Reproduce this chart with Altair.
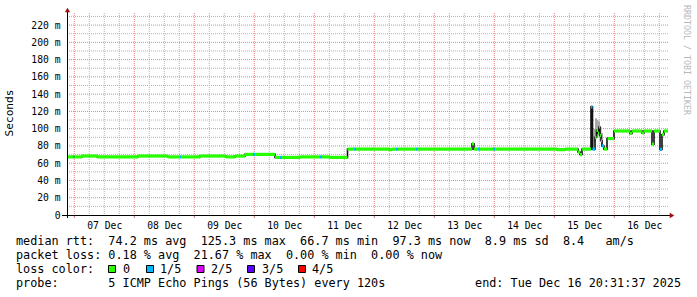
import altair as alt
import pandas as pd

FONT = "DejaVu Sans Mono"

# ---------------- data ----------------
# median RTT steps (ms) and number of lost pings (out of 5)
seg_time = [
    "2025-12-06T21:05", "2025-12-06T23:29", "2025-12-07T00:00", "2025-12-07T03:05", "2025-12-07T09:05",
    "2025-12-08T01:29", "2025-12-08T13:29", "2025-12-08T18:17", "2025-12-08T18:41", "2025-12-09T02:17",
    "2025-12-09T12:41", "2025-12-09T16:17", "2025-12-09T20:17", "2025-12-09T23:29", "2025-12-10T00:17",
    "2025-12-10T08:17", "2025-12-10T10:17", "2025-12-10T11:05", "2025-12-10T18:17", "2025-12-11T02:17",
    "2025-12-11T03:05", "2025-12-11T06:17", "2025-12-11T13:17", "2025-12-11T15:53", "2025-12-11T16:41",
    "2025-12-12T05:53", "2025-12-12T07:05", "2025-12-12T08:41", "2025-12-12T09:29", "2025-12-12T16:41",
    "2025-12-12T17:29", "2025-12-13T15:05", "2025-12-13T15:53", "2025-12-13T17:29", "2025-12-13T18:17",
    "2025-12-13T23:29", "2025-12-14T00:17", "2025-12-15T01:05", "2025-12-15T04:17", "2025-12-15T09:29",
    "2025-12-15T10:17", "2025-12-15T11:05", "2025-12-15T14:41", "2025-12-15T15:17", "2025-12-15T16:17",
    "2025-12-15T16:53", "2025-12-15T17:29", "2025-12-15T17:53", "2025-12-15T18:17", "2025-12-15T18:41",
    "2025-12-15T19:05", "2025-12-15T19:53", "2025-12-15T21:05", "2025-12-15T21:29", "2025-12-15T23:53",
    "2025-12-16T06:17", "2025-12-16T07:05", "2025-12-16T11:05", "2025-12-16T11:53", "2025-12-16T15:05",
    "2025-12-16T15:53", "2025-12-16T18:17", "2025-12-16T19:05", "2025-12-16T19:53",
]
seg_median_ms = [
    67.3, 67.3, 67.3, 68.3, 67.3,
    68.3, 67.3, 67.3, 67.3, 68.3,
    67.3, 68.3, 70.2, 70.2, 70.2,
    66.7, 66.7, 66.7, 67.3, 67.3,
    67.3, 66.7, 76.3, 76.3, 76.3,
    75.7, 76.3, 76.3, 76.3, 76.3,
    76.3, 82.5, 76.3, 76.3, 76.3,
    76.3, 76.3, 75.7, 76.3, 73.0,
    70.0, 76.3, 125.3, 76.3, 90.0,
    98.0, 95.0, 102.0, 92.0, 86.0,
    80.0, 76.3, 88.5, 88.5, 97.3,
    94.5, 97.3, 95.0, 97.3, 82.0,
    97.3, 76.0, 93.0, 97.3,
]
seg_lost = [
    0, 1, 0, 0, 0,
    0, 0, 1, 0, 0,
    0, 0, 0, 1, 0,
    0, 1, 0, 0, 1,
    0, 0, 0, 1, 0,
    0, 0, 1, 0, 1,
    0, 0, 0, 1, 0,
    1, 0, 0, 0, 0,
    0, 0, 1, 1, 0,
    0, 0, 0, 0, 0,
    1, 0, 2, 0, 0,
    0, 0, 0, 0, 0,
    0, 1, 0, 0,
]
plot_start = "2025-12-06T21:05"
plot_end = "2025-12-16T21:29"

# smoke (spread of the pings) where it is visible
smoke_time = ["2025-12-15T15:29", "2025-12-15T16:05", "2025-12-15T16:41", "2025-12-15T17:17",
              "2025-12-15T17:53", "2025-12-15T18:29", "2025-12-15T19:05"]
smoke_low_ms = [78, 84, 88, 90, 92, 86, 80]
smoke_high_ms = [92, 100, 112, 110, 108, 102, 95]

loss_labels = ["0", "1/5", "2/5", "3/5", "4/5"]
loss_colors = ["#26ff00", "#00b8ff", "#dd00ff", "#5e00ff", "#ff0000"]

y_ticks = [0, 20, 40, 60, 80, 100, 120, 140, 160, 180, 200, 220]
y_minor = [10, 30, 50, 70, 90, 110, 130, 150, 170, 190, 210, 230]
day_numbers = [7, 8, 9, 10, 11, 12, 13, 14, 15, 16]

rtt_stats = ["74.2 ms avg", "125.3 ms max", "66.7 ms min", "97.3 ms now", "8.9 ms sd", "8.4   am/s"]
loss_stats = ["0.18 % avg", "21.67 % max", "0.00 % min", "0.00 % now"]
probe_text = "5 ICMP Echo Pings (56 Bytes) every 120s"
end_text = "end: Tue Dec 16 20:31:37 2025"

# ---------------- tables ----------------
seg_end = seg_time[1:] + [plot_end]
seg_df = pd.DataFrame({
    "t": seg_time, "t2": seg_end, "v": seg_median_ms,
    "loss": [loss_labels[k] for k in seg_lost],
})
line_df = pd.DataFrame({"t": seg_time + [plot_end], "v": seg_median_ms + [seg_median_ms[-1]]})
smoke_df = pd.DataFrame({"t": smoke_time, "v": smoke_low_ms, "v2": smoke_high_ms})

midnights = [f"2025-12-{d:02d}T00:00" for d in day_numbers]
six_hours = [f"2025-12-{d:02d}T{h:02d}:00" for d in day_numbers for h in (6, 12, 18)]
six_hours = [s for s in six_hours if s <= plot_end]

W, H = 601, 202


def dt(s):
    d, t = s.split("T")
    y, mo, da = [int(p) for p in d.split("-")]
    hh, mm = [int(p) for p in t.split(":")]
    return alt.DateTime(year=y, month=mo, date=da, hours=hh, minutes=mm)


xscale = alt.Scale(domain=[dt(plot_start), dt(plot_end)])
yscale = alt.Scale(domain=[0, 234], nice=False, zero=False)
xaxis = alt.Axis(values=[alt.DateTime(year=2025, month=12, date=d, hours=12) for d in day_numbers],
                 format="%d %b", labelFont=FONT, labelFontSize=9.7, labelColor="#000000",
                 domain=False, ticks=False, grid=False, labelPadding=5, title=None,
                 labelFlush=False, labelOverlap=False)
yaxis = alt.Axis(values=y_ticks, labelExpr="datum.value == 0 ? '0' : datum.value + '\u00a0m'",
                 labelFont=FONT, labelFontSize=9.7, labelColor="#000000",
                 domain=False, ticks=False, grid=False, labelPadding=7, title=None,
                 labelOverlap=False, labelFlush=False)
X = alt.X("t:T", scale=xscale, axis=xaxis)
Y = alt.Y("v:Q", scale=yscale, axis=yaxis)
cscale = alt.Scale(domain=loss_labels, range=loss_colors)

MINOR = "#b4b4b4"
MAJOR = "#ea8080"

g1 = alt.Chart(pd.DataFrame({"v": y_minor})).mark_rule(color=MINOR, strokeDash=[1, 1], strokeWidth=1).encode(y=Y)
g2 = alt.Chart(pd.DataFrame({"t": six_hours})).mark_rule(color=MINOR, strokeDash=[1, 1], strokeWidth=1).encode(x=X)
g3 = alt.Chart(pd.DataFrame({"v": y_ticks[1:]})).mark_rule(color=MAJOR, strokeDash=[1, 1], strokeWidth=1).encode(y=Y)
g4 = alt.Chart(pd.DataFrame({"t": midnights})).mark_rule(color=MAJOR, strokeDash=[1, 1], strokeWidth=1).encode(x=X)

smoke = alt.Chart(smoke_df).mark_rule(color="#a8a8a8", strokeWidth=2).encode(x=X, y=Y, y2="v2:Q")
black = alt.Chart(line_df).mark_line(color="#111111", strokeWidth=1.6, interpolate="step-after").encode(x=X, y=Y)
colored = alt.Chart(seg_df).mark_rule(strokeWidth=3.2).encode(
    x=X, x2="t2:T", y=Y, color=alt.Color("loss:N", scale=cscale, legend=None))

ticks = alt.Chart(pd.DataFrame({"t": midnights})).mark_rule(color="#d07070", strokeWidth=1).encode(
    x=X, y=alt.value(H), y2=alt.value(H + 3))

one = pd.DataFrame({"a": [0]})
axis_b = alt.Chart(one).mark_rule(color="#000000", strokeWidth=1).encode(
    x=alt.value(-5), x2=alt.value(W + 2), y=alt.value(H + 0.5))
axis_l = alt.Chart(one).mark_rule(color="#000000", strokeWidth=1).encode(
    x=alt.value(0.5), y=alt.value(H + 3), y2=alt.value(-2))
arrow_up = alt.Chart(one).mark_point(shape="triangle-up", filled=True, size=28, color="#a01010", opacity=1).encode(
    x=alt.value(0.5), y=alt.value(-3))
arrow_rt = alt.Chart(one).mark_point(shape="triangle-right", filled=True, size=28, color="#a01010", opacity=1).encode(
    x=alt.value(W + 4), y=alt.value(H + 0.5))


def nb(s):
    return s.replace(" ", "\u00a0")


def txt(s, x, y, size=11.8, align="left", angle=0, color="#000000"):
    return alt.Chart(pd.DataFrame({"s": [nb(s)]})).mark_text(
        font=FONT, fontSize=size, align=align, baseline="middle", angle=angle, color=color
    ).encode(text="s:N", x=alt.value(x), y=alt.value(y))


LX = -51
rows_y = [228, 242, 256, 270]
line1 = "median rtt:  " + "  ".join(rtt_stats)
line2 = "packet loss: " + "  ".join(loss_stats)
texts = [
    txt("Seconds", -57, 100, size=11.2, align="center", angle=270),
    txt("RRDTOOL / TOBI OETIKER", 619, 47, size=8.3, align="center", angle=90, color="#b8b8b8"),
    txt(line1, LX, rows_y[0]),
    txt(line2, LX, rows_y[1]),
    txt("loss color:", LX, rows_y[2]),
    txt("probe:       " + probe_text, LX, rows_y[3]),
    txt(end_text, 614, rows_y[3], align="right"),
]

box_x = [45, 83, 133.5, 184, 235]
label_x = [56, 93, 144, 195, 245]
boxes = []
for lab, bx, tx in zip(loss_labels, box_x, label_x):
    boxes.append(alt.Chart(pd.DataFrame({"loss": [lab]})).mark_square(
        size=49, stroke="#000000", strokeWidth=1, opacity=1, filled=True).encode(
        x=alt.value(bx), y=alt.value(rows_y[2]),
        fill=alt.Fill("loss:N", scale=cscale, legend=None)))
    boxes.append(txt(lab, tx, rows_y[2]))

chart = alt.layer(
    g1, g2, g3, g4, smoke, black, colored, ticks, axis_b, axis_l, arrow_up, arrow_rt, *texts, *boxes
).properties(
    width=W, height=H,
    autosize=alt.AutoSizeParams(type="none"),
    padding={"left": 67, "top": 13, "right": 29, "bottom": 82},
    background="#ffffff",
).configure_view(strokeWidth=0)

chart.save("out.html", embed_options={"renderer": "svg", "actions": False})
